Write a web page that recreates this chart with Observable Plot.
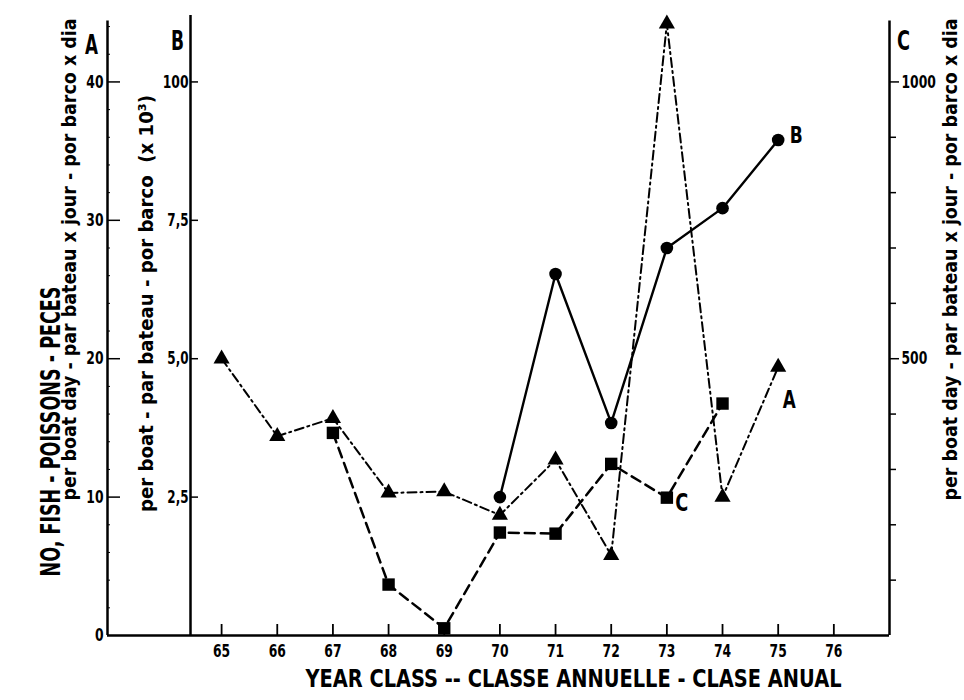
<!DOCTYPE html>
<html>
<head>
<meta charset="utf-8">
<script src="https://cdn.jsdelivr.net/npm/d3@7"></script>
<script src="https://cdn.jsdelivr.net/npm/@observablehq/plot@0.6"></script>
<style>
  html, body { margin: 0; padding: 0; background: #fff; }
  #chart { width: 964px; height: 700px; }
</style>
</head>
<body>
<div id="chart"></div>
<script>
// Year classes on the horizontal axis
const xTicks = [65, 66, 67, 68, 69, 70, 71, 72, 73, 74, 75, 76];

// A: fish per boat day (left axis A)
const yearsA = [65, 66, 67, 68, 69, 70, 71, 72, 73, 74, 75];
const seriesA = [20.0, 14.4, 15.7, 10.3, 10.4, 8.7, 12.7, 5.8, 44.2, 10.0, 19.4];

// B: fish per boat, thousands (second axis B)
const yearsB = [70, 71, 72, 73, 74, 75];
const seriesB = [2.5, 6.53, 3.84, 7.0, 7.72, 8.95];

// C: fish per boat day (right axis C)
const yearsC = [67, 68, 69, 70, 71, 72, 73, 74];
const seriesC = [366, 92, 13, 186, 184, 310, 249, 419];

// Axis ticks and their labels
const aTicks = [0, 10, 20, 30, 40];
const aMinor = [2, 4, 6, 8, 12, 14, 16, 18, 22, 24, 26, 28, 32, 34, 36, 38, 42, 44];
const bTicks = [2.5, 5, 7.5, 10];
const bTickLabels = ["2,5", "5,0", "7,5", "100"];
const cTicks = [100, 200, 300, 400, 500, 600, 700, 800, 900, 1000];
const cLabeled = [500, 1000];

// Axis titles
const titleNo = "NO, FISH - POISSONS - PECES";
const titleA = "per boat day - par bateau x jour - por barco x dia";
const titleB = "per boat - par bateau - por barco  (x 10\u00B3)";
const titleC = "per boat day - par bateau x jour - por barco x dia";
const titleX = "YEAR CLASS -- CLASSE ANNUELLE - CLASE ANUAL";

// Layout
const W = 964, H = 700, mL = 107, mR = 75, mT = 15, mB = 65;
const xD = [62.95, 77];
const yD = [0, 44.8];
// B and C share the A axis geometry: 10 B = 40 A = 1000 C
const bToA = b => b * 4;
const cToA = c => c / 25;
// pixel lengths expressed in scale units (for tick lengths)
const px = n => n * (xD[1] - xD[0]) / (W - mL - mR);
const py = n => n * (yD[1] - yD[0]) / (H - mT - mB);

const A = yearsA.map((yr, i) => ({yr, v: seriesA[i]}));
const B = yearsB.map((yr, i) => ({yr, v: bToA(seriesB[i])}));
const C = yearsC.map((yr, i) => ({yr, v: cToA(seriesC[i])}));

const font = "'Liberation Sans Narrow','DejaVu Sans Condensed','DejaVu Sans',sans-serif";

const chart = Plot.plot({
  width: W,
  height: H,
  marginLeft: mL,
  marginRight: mR,
  marginTop: mT,
  marginBottom: mB,
  x: {domain: xD, axis: null},
  y: {domain: yD, axis: null},
  style: {fontFamily: font, fontWeight: "bold", fontStretch: "condensed", background: "#fff", color: "#000"},
  marks: [
    // axis lines
    Plot.ruleX([xD[0]], {y1: 0, y2: 44.4, stroke: "#000", strokeWidth: 2.5}),
    Plot.ruleX([xD[0]], {y1: 0, y2: 44.8, stroke: "#000", strokeWidth: 2.5, dx: 83}),
    Plot.ruleX([xD[1]], {y1: 0, y2: 44.4, stroke: "#000", strokeWidth: 2.5}),
    Plot.ruleY([0], {x1: xD[0], x2: xD[1], stroke: "#000", strokeWidth: 2.5}),

    // axis A
    Plot.ruleY(aTicks.filter(d => d > 0), {y: d => d, x1: xD[0], x2: xD[0] + px(13), stroke: "#000", strokeWidth: 1.5}),
    Plot.ruleY(aMinor, {y: d => d, x1: xD[0], x2: xD[0] + px(3), stroke: "#000", strokeWidth: 1}),
    Plot.text(aTicks, {x: xD[0], y: d => d, text: d => String(d), textAnchor: "end", dx: -4, fontSize: 18}),

    // axis B
    Plot.ruleY(bTicks, {y: d => bToA(d), x1: xD[0], x2: xD[0] + px(8), dx: 83, stroke: "#000", strokeWidth: 1.5}),
    Plot.text(bTicks, {x: xD[0], y: d => bToA(d), text: (d, i) => bTickLabels[i], textAnchor: "end", dx: 81, fontSize: 18}),

    // axis C
    Plot.ruleY(cTicks, {y: d => cToA(d), x1: xD[1], x2: d => xD[1] + px(cLabeled.includes(d) ? 10 : 7), stroke: "#000", strokeWidth: 1.5}),
    Plot.text(cLabeled, {x: xD[1], y: d => cToA(d), text: d => String(d), textAnchor: "start", dx: 12, fontSize: 18}),

    // x axis
    Plot.ruleX(xTicks, {x: d => d, y1: 0, y2: py(11), stroke: "#000", strokeWidth: 1.8}),
    Plot.text(xTicks, {x: d => d, y: 0, text: d => String(d), dy: 16, fontSize: 18}),

    // series lines
    Plot.line(A, {x: "yr", y: "v", stroke: "#000", strokeWidth: 2, strokeDasharray: "9,4,2,4"}),
    Plot.line(C, {x: "yr", y: "v", stroke: "#000", strokeWidth: 2.5, strokeDasharray: "10,6"}),
    Plot.line(B, {x: "yr", y: "v", stroke: "#000", strokeWidth: 2.4}),

    // series markers
    Plot.dot(A, {x: "yr", y: "v", symbol: "triangle", r: 6, fill: "#000", stroke: "none"}),
    Plot.dot(C, {x: "yr", y: "v", symbol: "square", r: 7, fill: "#000", stroke: "none"}),
    Plot.dot(B, {x: "yr", y: "v", symbol: "circle", r: 6.3, fill: "#000", stroke: "none"}),

    // series labels
    Plot.text([A[A.length - 1]], {x: "yr", y: "v", text: () => "A", dx: 11, dy: 33, fontSize: 25}),
    Plot.text([B[B.length - 1]], {x: "yr", y: "v", text: () => "B", dx: 18, dy: -4, fontSize: 23}),
    Plot.text([C[6]], {x: "yr", y: "v", text: () => "C", dx: 15, dy: 5, fontSize: 25}),

    // axis letters
    Plot.text(["A"], {frameAnchor: "top-left", textAnchor: "middle", dx: -16, dy: 20, fontSize: 26}),
    Plot.text(["B"], {frameAnchor: "top-left", textAnchor: "middle", dx: 70, dy: 16, fontSize: 26}),
    Plot.text(["C"], {frameAnchor: "top-right", textAnchor: "middle", dx: 14, dy: 16, fontSize: 26}),

    // axis titles
    Plot.text([titleNo], {frameAnchor: "top-left", textAnchor: "middle", dx: -67, dy: 416, rotate: -90, fontSize: 27}),
    Plot.text([titleA], {frameAnchor: "top-left", textAnchor: "middle", dx: -46, dy: 244, rotate: -90, fontSize: 20}),
    Plot.text([titleB], {frameAnchor: "top-left", textAnchor: "middle", dx: 31, dy: 288, rotate: -90, fontSize: 20}),
    Plot.text([titleC], {frameAnchor: "top-right", textAnchor: "middle", dx: 53, dy: 244, rotate: -90, fontSize: 20}),
    Plot.text([titleX], {frameAnchor: "bottom", textAnchor: "middle", dx: 75, dy: 51, fontSize: 25})
  ]
});

document.getElementById("chart").appendChild(chart);

// squeeze all lettering to the tall, narrow face of the typeset figure
const fit = new Map([[titleNo, 290], [titleA, 464], [titleB, 417], [titleC, 482], [titleX, 536]]);
const charWidth = ch => /[0-9]/.test(ch) ? 8.6 : ch === "," ? 4 : 13;
chart.querySelectorAll("text").forEach(t => {
  const s = t.textContent;
  const len = fit.has(s) ? fit.get(s) : Array.from(s).reduce((w, ch) => w + charWidth(ch), 0);
  t.setAttribute("textLength", len);
  t.setAttribute("lengthAdjust", "spacingAndGlyphs");
});
</script>
</body>
</html>
